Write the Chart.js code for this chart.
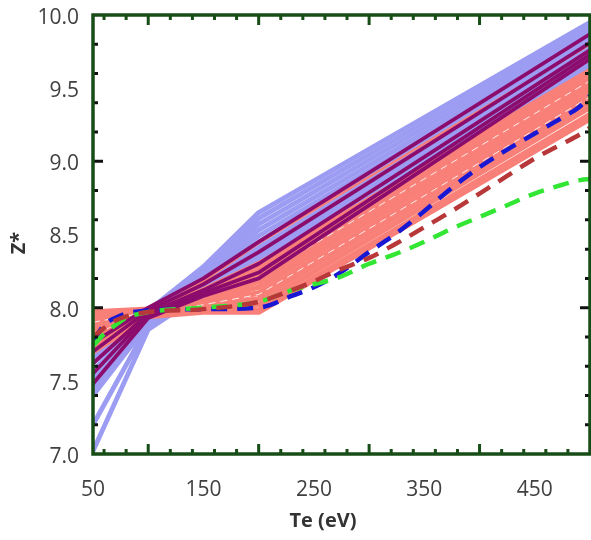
<!DOCTYPE html>
<html><head><meta charset="utf-8">
<script src="https://cdn.jsdelivr.net/npm/chart.js@4"></script>
<style>html,body{margin:0;padding:0;background:#fff}</style>
</head><body>
<canvas id="c" width="591" height="540" style="display:block;width:591px;height:540px"></canvas>
<script>
// ---------- data ----------
const te = [50, 100, 150, 200, 500];
const teFine = [50, 60, 70, 80, 100, 150, 200, 230, 250, 270, 300, 325, 350, 375, 400, 425, 450, 475, 490, 500];

const lavenderRuns = [
  [7.78, 7.98, 8.28, 8.65, 9.95],
  [7.74, 7.97, 8.26, 8.61, 9.92],
  [7.70, 7.96, 8.24, 8.57, 9.89],
  [7.66, 7.95, 8.22, 8.53, 9.86],
  [7.62, 7.94, 8.20, 8.49, 9.83],
  [7.57, 7.93, 8.17, 8.45, 9.80],
  [7.52, 7.92, 8.15, 8.41, 9.77],
  [7.47, 7.91, 8.13, 8.37, 9.74],
  [7.43, 7.90, 8.10, 8.33, 9.71],
  [7.40, 7.89, 8.08, 8.29, 9.68],
  [7.45, 7.90, 8.06, 8.25, 9.65],
  [7.02, 7.85, 8.10, 8.35, 9.72],
  [7.20, 7.88, 8.12, 8.39, 9.75]
];
const salmonRuns = [
  [7.97, 7.99, 8.12, 8.30, 9.62],
  [7.95, 7.98, 8.10, 8.26, 9.59],
  [7.92, 7.98, 8.08, 8.22, 9.56],
  [7.89, 7.97, 8.07, 8.18, 9.52],
  [7.86, 7.97, 8.05, 8.14, 9.49],
  [7.83, 7.96, 8.03, 8.10, 9.45],
  [7.80, 7.96, 8.01, 8.06, 9.41],
  [7.76, 7.95, 7.99, 8.02, 9.37],
  [7.72, 7.95, 7.98, 7.98, 9.32],
  [7.70, 7.94, 7.97, 7.97, 9.29]
];
const salmonThin = [7.80, 7.97, 8.18, 8.44, 9.80];
const whiteStreaks = [
  [7.90, 7.97, 8.07, 8.21, 9.55],
  [7.82, 7.96, 8.02, 8.09, 9.44]
];
const purpleRuns = [
  [7.76, 8.00, 8.20, 8.45, 9.87],
  [7.70, 7.98, 8.16, 8.38, 9.81],
  [7.62, 7.96, 8.12, 8.30, 9.76],
  [7.55, 7.95, 8.10, 8.24, 9.73],
  [7.48, 7.93, 8.08, 8.20, 9.70]
];
const blueDash  = [7.77, 7.88, 7.93, 7.96, 7.98, 7.99, 8.00, 8.08, 8.14, 8.22, 8.38, 8.51, 8.66, 8.82, 8.96, 9.08, 9.19, 9.30, 9.37, 9.45];
const redDash   = [7.80, 7.86, 7.91, 7.94, 7.97, 7.99, 8.04, 8.12, 8.18, 8.25, 8.34, 8.44, 8.55, 8.66, 8.78, 8.90, 9.02, 9.12, 9.18, 9.23];
const greenDash = [7.74, 7.82, 7.88, 7.93, 7.97, 8.00, 8.04, 8.12, 8.16, 8.20, 8.30, 8.37, 8.45, 8.54, 8.62, 8.70, 8.78, 8.84, 8.87, 8.88];

const xTickLabels = [50, 150, 250, 350, 450];
const xTitle = 'Te (eV)';
const yTitle = 'Z*';

// ---------- styles ----------
const C_LAV = '#9c9cf2', C_SAL = '#f98078', C_PUR = '#8c0c6e';
const C_BLUE = '#1717d4', C_RED = '#b8383a', C_GREEN = '#33e633';
const FRAME = '#174d17';

function runs(list, xs, color, width, order, dash) {
  return list.map(vals => ({
    data: vals.map((v, i) => ({x: xs[i], y: v})),
    borderColor: color, borderWidth: width, pointRadius: 0, fill: false,
    tension: 0, order: order, borderJoinStyle: 'round', borderCapStyle: dash ? 'butt' : 'round',
    borderDash: dash || []
  }));
}
function dashed(vals, color) {
  return {
    data: vals.map((v, i) => ({x: teFine[i], y: v})),
    borderColor: color, borderWidth: 4.5, borderDash: [16, 10], pointRadius: 0,
    fill: false, cubicInterpolationMode: 'monotone', order: 0, borderCapStyle: 'butt'
  };
}

const datasets = [
  ...runs(lavenderRuns, te, C_LAV, 4.8, 5),
  ...runs(salmonRuns, te, C_SAL, 5.5, 4),
  ...runs(whiteStreaks, te, 'rgba(255,255,255,0.85)', 1, 3, [7, 5]),
  ...runs([salmonThin], te, C_SAL, 2.5, 2),
  ...runs(purpleRuns, te, C_PUR, 3.8, 1),
  dashed(redDash, C_RED),
  dashed(greenDash, C_GREEN),
  dashed(blueDash, C_BLUE)
];

const framePlugin = {
  id: 'frame',
  afterDatasetsDraw(chart) {
    const {ctx, chartArea: a, scales: {x, y}} = chart;
    ctx.save();
    ctx.lineCap = 'butt';
    ctx.lineWidth = 3;
    for (let v = 60; v < 500; v += 20) {
      const px = x.getPixelForValue(v);
      const len = (v % 100 === 0) ? 10 : 5;
      ctx.strokeStyle = FRAME;
      ctx.beginPath();
      ctx.moveTo(px, a.bottom); ctx.lineTo(px, a.bottom - len);
      ctx.moveTo(px, a.top); ctx.lineTo(px, a.top + len);
      ctx.stroke();
    }
    for (let k = 36; k < 50; k++) {
      const v = k / 5;
      const py = y.getPixelForValue(v);
      const len = (k % 5 === 0) ? 10 : 5;
      ctx.strokeStyle = '#111';
      ctx.beginPath();
      ctx.moveTo(a.left, py); ctx.lineTo(a.left + len, py);
      ctx.moveTo(a.right, py); ctx.lineTo(a.right - len, py);
      ctx.stroke();
    }
    ctx.strokeStyle = FRAME;
    ctx.lineWidth = 3.5;
    ctx.strokeRect(a.left, a.top, a.right - a.left, a.bottom - a.top);
    ctx.fillStyle = '#333';
    ctx.font = 'bold 20px "Open Sans"';
    ctx.textAlign = 'center';
    ctx.textBaseline = 'middle';
    ctx.fillText(xTitle, 323, 521);
    ctx.translate(19, 243);
    ctx.rotate(-Math.PI / 2);
    ctx.fillText(yTitle, 0, 0);
    ctx.restore();
  }
};

const tickFont = {family: '"Open Sans"', size: 21};

new Chart(document.getElementById('c'), {
  type: 'line',
  data: {datasets},
  options: {
    responsive: false, animation: false, devicePixelRatio: 1,
    layout: {padding: {top: 15, right: 1, left: 0, bottom: 0}},
    plugins: {legend: {display: false}, tooltip: {enabled: false}},
    scales: {
      x: {
        type: 'linear', min: 50, max: 500,
        afterBuildTicks: s => { s.ticks = xTickLabels.map(v => ({value: v})); },
        grid: {display: false, drawTicks: false}, border: {display: false},
        ticks: {font: tickFont, color: '#404040', padding: 23, maxRotation: 0, autoSkip: false},
        afterFit: s => { s.height = 86; s.paddingLeft = 0; s.paddingRight = 0; }
      },
      y: {
        min: 7, max: 10,
        grid: {display: false, drawTicks: false}, border: {display: false},
        ticks: {stepSize: 0.5, font: tickFont, color: '#404040', padding: 14, labelOffset: 3,
                callback: v => Number(v).toFixed(1)},
        afterFit: s => { s.width = 93; s.paddingTop = 0; s.paddingBottom = 0; }
      }
    }
  },
  plugins: [framePlugin]
});
</script>
</body></html>
